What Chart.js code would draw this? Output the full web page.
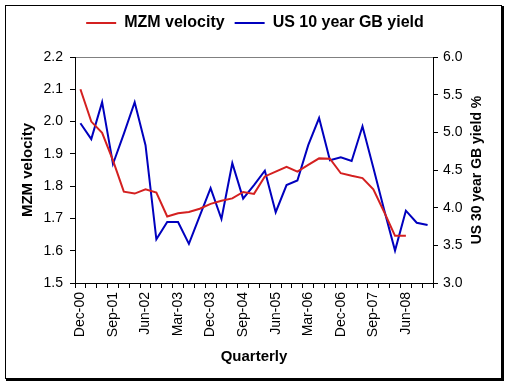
<!DOCTYPE html>
<html>
<head>
<meta charset="utf-8">
<script src="https://cdn.jsdelivr.net/npm/chart.js@4"></script>
<style>
	html, body { margin: 0; padding: 0; background: #fff; }
	canvas { display: block; }
</style>
</head>
<body>
<canvas id="chart" width="510" height="387"></canvas>
<script>
// quarterly categories, Dec-00 .. Dec-08
const quarters = [
	'Dec-00', 'Mar-01', 'Jun-01', 'Sep-01', 'Dec-01', 'Mar-02', 'Jun-02', 'Sep-02', 'Dec-02',
	'Mar-03', 'Jun-03', 'Sep-03', 'Dec-03', 'Mar-04', 'Jun-04', 'Sep-04', 'Dec-04',
	'Mar-05', 'Jun-05', 'Sep-05', 'Dec-05', 'Mar-06', 'Jun-06', 'Sep-06', 'Dec-06',
	'Mar-07', 'Jun-07', 'Sep-07', 'Dec-07', 'Mar-08', 'Jun-08', 'Sep-08', 'Dec-08',
];

// left axis, stops at Jun-08
const mzmVelocity = [
	2.10, 2.00, 1.965, 1.88, 1.783, 1.777, 1.79, 1.78, 1.706,
	1.716, 1.72, 1.73, 1.745, 1.755, 1.762, 1.782, 1.776,
	1.83, 1.845, 1.86, 1.845, 1.866, 1.886, 1.885, 1.84,
	1.832, 1.825, 1.79, 1.72, 1.646, 1.646,
];

// right axis, %
const bondYield = [
	5.12, 4.91, 5.40, 4.58, 4.98, 5.40, 4.83, 3.58, 3.81,
	3.81, 3.52, 3.89, 4.26, 3.85, 4.59, 4.12, 4.30,
	4.49, 3.94, 4.30, 4.36, 4.83, 5.19, 4.63, 4.67,
	4.62, 5.08, 4.53, 3.97, 3.43, 3.96, 3.80, 3.77,
];

const FONT = 'Arial, "Liberation Sans", sans-serif';
const RED = 'rgb(212, 32, 32)';
const BLUE = 'rgb(0, 0, 190)';

// frame with shadow + right axis title (reads bottom to top like the left one)
const decorations = {
	id: 'decorations',
	beforeDraw(chart) {
		const ctx = chart.ctx;
		ctx.save();
		ctx.fillStyle = '#fff';
		ctx.fillRect(0, 0, chart.width, chart.height);
		ctx.strokeStyle = '#000';
		ctx.lineWidth = 1;
		ctx.strokeRect(5.5, 5.5, 496, 373);
		ctx.fillStyle = '#000';
		ctx.fillRect(502, 6, 2, 375);
		ctx.fillRect(6, 379, 498, 2);
		ctx.restore();
	},
	afterDraw(chart) {
		const ctx = chart.ctx;
		const area = chart.chartArea;
		ctx.save();
		ctx.translate(477, (area.top + area.bottom) / 2);
		ctx.rotate(-Math.PI / 2);
		ctx.font = `bold 14px ${FONT}`;
		ctx.fillStyle = '#000';
		ctx.textAlign = 'center';
		ctx.textBaseline = 'middle';
		ctx.fillText('US 30 year GB yield %', 0, 0);
		ctx.restore();
	},
};

Chart.defaults.font.family = FONT;
Chart.defaults.color = '#000';

new Chart(document.getElementById('chart'), {
	type: 'line',
	data: {
		labels: quarters,
		datasets: [
			{
				label: 'MZM velocity',
				data: mzmVelocity,
				yAxisID: 'y',
				borderColor: RED,
				backgroundColor: RED,
				borderWidth: 2,
				pointRadius: 0,
				tension: 0,
			},
			{
				label: 'US 10 year GB yield',
				data: bondYield,
				yAxisID: 'y1',
				borderColor: BLUE,
				backgroundColor: BLUE,
				borderWidth: 2,
				pointRadius: 0,
				tension: 0,
			},
		],
	},
	options: {
		responsive: false,
		animation: false,
		devicePixelRatio: 1,
		layout: { padding: { top: 5, left: 10, right: 10, bottom: 12 } },
		plugins: {
			legend: {
				position: 'top',
				labels: {
					usePointStyle: true,
					pointStyle: 'line',
					pointStyleWidth: 30,
					padding: 10,
					font: { size: 16, weight: 'bold' },
					color: '#000',
				},
			},
			// empty spacer between legend and plot
			title: {
				display: true,
				text: '',
				weight: 500,
				font: { size: 10, lineHeight: 1 },
				padding: { top: 0, bottom: 6 },
			},
			tooltip: { enabled: false },
		},
		scales: {
			x: {
				offset: true,
				grid: { offset: true, drawOnChartArea: false, tickLength: 5, tickColor: '#000' },
				border: { color: '#000', width: 1 },
				ticks: {
					autoSkip: false,
					minRotation: 90,
					maxRotation: 90,
					padding: 4,
					font: { size: 14 },
					callback: (v, i) => (i % 3 === 0 ? quarters[i] : ''),
				},
				title: {
					display: true,
					text: 'Quarterly',
					font: { size: 15, weight: 'bold' },
					padding: { top: 4, bottom: 9 },
				},
				afterFit: (scale) => { scale.height = 92; },
			},
			y: {
				position: 'left',
				min: 1.5,
				max: 2.2,
				ticks: {
					stepSize: 0.1,
					padding: 7,
					font: { size: 14 },
					callback: (v) => v.toFixed(1),
				},
				grid: {
					tickLength: 5,
					tickColor: '#000',
					color: (c) => (c.tick && Math.abs(c.tick.value - 2.2) < 1e-6 ? '#808080' : 'transparent'),
				},
				border: { color: '#000', width: 1 },
				title: {
					display: true,
					text: 'MZM velocity',
					font: { size: 15, weight: 'bold' },
					padding: { top: 9, bottom: 0 },
				},
				afterFit: (scale) => { scale.width = 65; },
			},
			y1: {
				position: 'right',
				min: 3,
				max: 6,
				ticks: {
					stepSize: 0.5,
					padding: 5,
					font: { size: 14 },
					callback: (v) => v.toFixed(1),
				},
				grid: { drawOnChartArea: false, tickLength: 5, tickColor: '#000' },
				border: { color: '#000', width: 1 },
				afterFit: (scale) => { scale.width = 67; },
			},
		},
	},
	plugins: [decorations],
});
</script>
</body>
</html>
